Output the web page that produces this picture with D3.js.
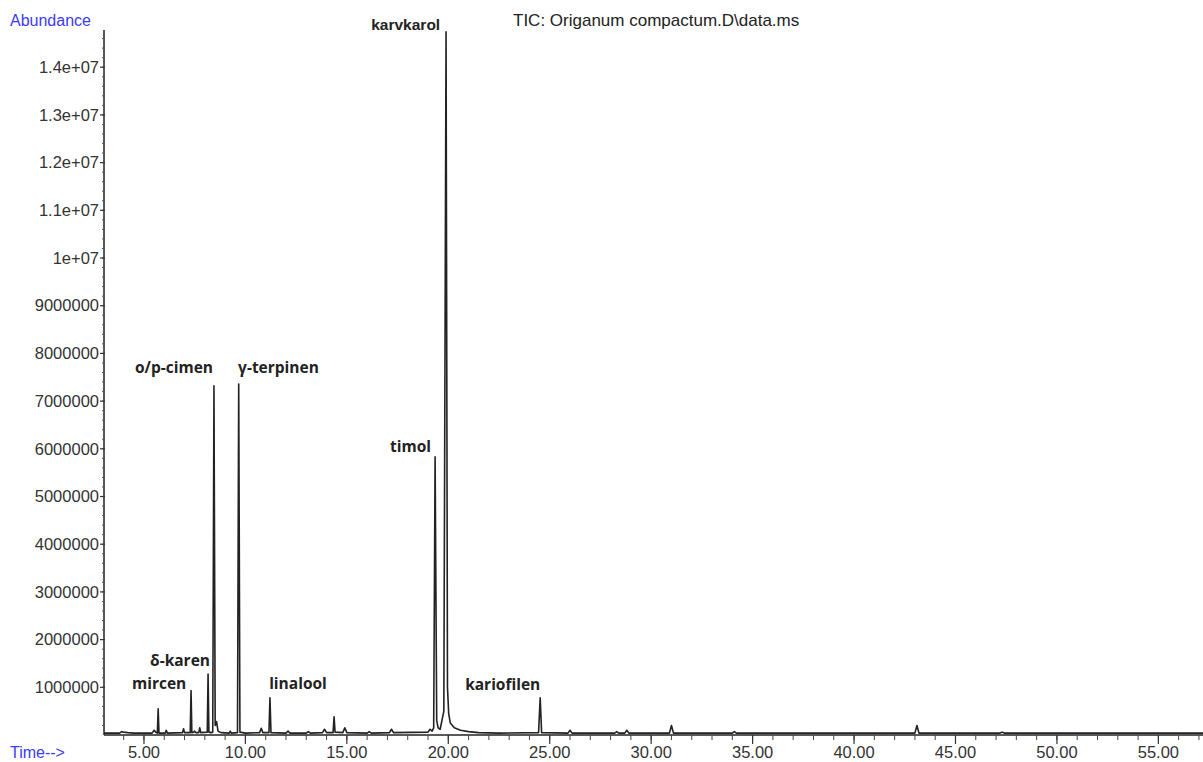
<!DOCTYPE html>
<html>
<head>
<meta charset="utf-8">
<script src="https://cdn.jsdelivr.net/npm/d3@7"></script>
<style>
  body { margin: 0; background: #fff; }
  svg { display: block; }
  .tick-label { font-family: "Liberation Sans", Arial, sans-serif; font-size: 16.5px; fill: #333; }
  .axis-name { font-family: "Liberation Sans", Arial, sans-serif; font-size: 16px; fill: #3b3bf5; }
  .title { font-family: "Liberation Sans", Arial, sans-serif; font-size: 17px; fill: #222; }
  .peak-label { font-family: "Open Sans", sans-serif; font-weight: bold; font-size: 15.5px; fill: #222; }
  .peak-label.arial { font-family: "Liberation Sans", Arial, sans-serif; }
</style>
</head>
<body>
<svg id="chart" width="1203" height="762"></svg>
<script>
"use strict";

// chromatogram trace (time in min, abundance in millions)
var traceTime = [
    3.03, 3.8, 3.9, 4.0, 4.2, 4.5, 5.4, 5.5, 5.6, 5.66, 5.7, 5.74,
    6.05, 6.1, 6.15, 6.9, 6.95, 7.0, 7.28, 7.32, 7.36, 7.45, 7.5, 7.55,
    7.7, 7.75, 7.8, 8.12, 8.16, 8.2, 8.3, 8.39, 8.45, 8.51, 8.58, 8.65, 8.8,
    9.2, 9.25, 9.3, 9.61, 9.67, 9.73, 10.0, 10.7, 10.78, 10.86, 11.16, 11.21, 11.26,
    12.0, 12.1, 12.2, 13.0, 13.1, 13.2, 13.8, 13.9, 14.0, 14.32, 14.37, 14.42,
    14.8, 14.9, 15.0, 16.0, 16.1, 16.2, 17.1, 17.2, 17.3,
    19.0, 19.1, 19.2, 19.28, 19.35, 19.43, 19.5, 19.6, 19.78, 19.89, 19.96,
    20.02, 20.1, 20.3, 20.6, 21.0, 21.5, 22.5, 24.45, 24.53, 24.6,
    25.9, 26.0, 26.1, 28.2, 28.3, 28.4, 28.7, 28.8, 28.9, 30.9, 31.0, 31.1,
    34.0, 34.1, 34.2, 43.0, 43.1, 43.2, 47.2, 47.3, 47.4, 57.2
];
var traceAbundance = [
    0.04, 0.04, 0.07, 0.06, 0.05, 0.04, 0.04, 0.1, 0.05, 0.04, 0.55, 0.04,
    0.04, 0.1, 0.04, 0.05, 0.13, 0.05, 0.05, 0.93, 0.05, 0.06, 0.08, 0.05,
    0.05, 0.15, 0.05, 0.06, 1.28, 0.06, 0.05, 0.06, 7.32, 0.2, 0.28, 0.08, 0.05,
    0.04, 0.08, 0.04, 0.05, 7.36, 0.06, 0.04, 0.05, 0.14, 0.05, 0.05, 0.78, 0.05,
    0.04, 0.08, 0.04, 0.04, 0.07, 0.04, 0.05, 0.12, 0.05, 0.05, 0.38, 0.06,
    0.05, 0.15, 0.05, 0.04, 0.07, 0.04, 0.05, 0.12, 0.05,
    0.06, 0.12, 0.08, 0.15, 5.83, 0.3, 0.15, 0.12, 0.5, 14.74, 1.0,
    0.45, 0.25, 0.15, 0.1, 0.07, 0.05, 0.04, 0.05, 0.78, 0.05,
    0.04, 0.1, 0.04, 0.04, 0.07, 0.04, 0.04, 0.1, 0.04, 0.04, 0.2, 0.04,
    0.04, 0.07, 0.04, 0.04, 0.2, 0.04, 0.04, 0.06, 0.04, 0.04
];

// peak names and where their labels sit (data units)
var peakNames = ["karvkarol", "o/p-cimen", "γ-terpinen", "timol", "δ-karen", "mircen", "linalool", "kariofilen"];
var labelTime = [19.6, 6.48, 9.64, 19.15, 5.3, 4.41, 11.17, 20.83];
var labelAbundance = [14.78, 7.59, 7.59, 5.93, 1.45, 0.96, 0.96, 0.94];
var labelAnchor = ["end", "middle", "start", "end", "start", "start", "start", "start"];

var yTickValues = [1e6, 2e6, 3e6, 4e6, 5e6, 6e6, 7e6, 8e6, 9e6, 1e7, 1.1e7, 1.2e7, 1.3e7, 1.4e7];
var yTickLabels = ["1000000", "2000000", "3000000", "4000000", "5000000", "6000000", "7000000",
    "8000000", "9000000", "1e+07", "1.1e+07", "1.2e+07", "1.3e+07", "1.4e+07"];
var xTickValues = [5, 10, 15, 20, 25, 30, 35, 40, 45, 50, 55];
var xTickLabels = ["5.00", "10.00", "15.00", "20.00", "25.00", "30.00", "35.00", "40.00", "45.00", "50.00", "55.00"];

var svg = d3.select("#chart");

var plot = {left: 104, right: 1203, top: 30, bottom: 735};

var x = d3.scaleLinear().domain([3.03, 57.2]).range([plot.left, plot.right]);
var y = d3.scaleLinear().domain([0, 14.78e6]).range([plot.bottom, plot.top]);

// y axis: line, major ticks with labels, minor ticks every 200000
var yAxis = svg.append("g").attr("class", "y axis");
yAxis.append("line")
    .attr("x1", plot.left).attr("x2", plot.left)
    .attr("y1", plot.top).attr("y2", plot.bottom)
    .attr("stroke", "#222").attr("stroke-width", 1.5);

yAxis.selectAll("line.minor")
    .data(d3.range(2e5, 14.78e6, 2e5))
    .enter().append("line")
    .attr("class", "minor")
    .attr("x1", plot.left - 2).attr("x2", plot.left + 1)
    .attr("y1", function(d) { return y(d); })
    .attr("y2", function(d) { return y(d); })
    .attr("stroke", "#555").attr("stroke-width", 1);

yAxis.selectAll("line.major")
    .data(yTickValues)
    .enter().append("line")
    .attr("class", "major")
    .attr("x1", plot.left - 4).attr("x2", plot.left + 1)
    .attr("y1", function(d) { return y(d); })
    .attr("y2", function(d) { return y(d); })
    .attr("stroke", "#333").attr("stroke-width", 1.2);

yAxis.selectAll("text")
    .data(yTickValues)
    .enter().append("text")
    .attr("class", "tick-label")
    .attr("x", plot.left - 5)
    .attr("y", function(d) { return y(d); })
    .attr("dy", "0.35em")
    .attr("text-anchor", "end")
    .text(function(d, i) { return yTickLabels[i]; });

// x axis: line, minor ticks each minute, major every 5
var xAxis = svg.append("g").attr("class", "x axis");
xAxis.append("line")
    .attr("x1", plot.left).attr("x2", plot.right)
    .attr("y1", plot.bottom).attr("y2", plot.bottom)
    .attr("stroke", "#222").attr("stroke-width", 1.5);

xAxis.selectAll("line.minor")
    .data(d3.range(4, 58, 1))
    .enter().append("line")
    .attr("class", "minor")
    .attr("x1", function(d) { return x(d); })
    .attr("x2", function(d) { return x(d); })
    .attr("y1", plot.bottom).attr("y2", plot.bottom + 5)
    .attr("stroke", "#444").attr("stroke-width", 1);

xAxis.selectAll("line.major")
    .data(xTickValues)
    .enter().append("line")
    .attr("class", "major")
    .attr("x1", function(d) { return x(d); })
    .attr("x2", function(d) { return x(d); })
    .attr("y1", plot.bottom).attr("y2", plot.bottom + 9)
    .attr("stroke", "#333").attr("stroke-width", 1.2);

xAxis.selectAll("text")
    .data(xTickValues)
    .enter().append("text")
    .attr("class", "tick-label")
    .attr("x", function(d) { return x(d); })
    .attr("y", 758)
    .attr("text-anchor", "middle")
    .text(function(d, i) { return xTickLabels[i]; });

// axis names and title
svg.append("text").attr("class", "axis-name")
    .attr("x", 10).attr("y", 26).text("Abundance");
svg.append("text").attr("class", "axis-name")
    .attr("x", 10).attr("y", 758).text("Time-->");
svg.append("text").attr("class", "title")
    .attr("x", 513).attr("y", 26).text("TIC: Origanum compactum.D\\data.ms");

// the trace
var line = d3.line()
    .x(function(d, i) { return x(traceTime[i]); })
    .y(function(d) { return y(d * 1e6); });

svg.append("path")
    .datum(traceAbundance)
    .attr("d", line)
    .attr("fill", "none")
    .attr("stroke", "#222")
    .attr("stroke-width", 1.6)
    .attr("stroke-linejoin", "round");

// peak names
svg.selectAll("text.peak-label")
    .data(peakNames)
    .enter().append("text")
    .attr("class", function(d, i) { return i === 0 ? "peak-label arial" : "peak-label"; })
    .attr("x", function(d, i) { return x(labelTime[i]); })
    .attr("y", function(d, i) { return y(labelAbundance[i] * 1e6); })
    .attr("text-anchor", function(d, i) { return labelAnchor[i]; })
    .text(function(d) { return d; });
</script>
</body>
</html>
